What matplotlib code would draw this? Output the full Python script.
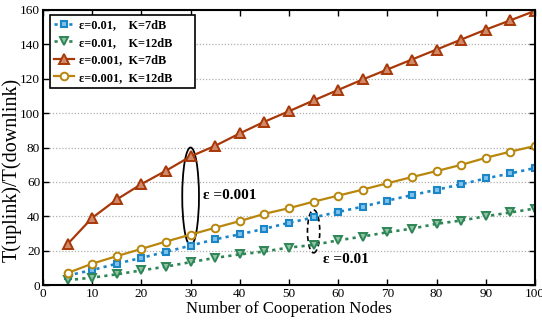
import matplotlib
matplotlib.use("Agg")
import matplotlib.pyplot as plt
from matplotlib.patches import Ellipse

plt.rcParams['font.family'] = ['Liberation Serif', 'DejaVu Serif']
plt.rcParams['mathtext.fontset'] = 'stix'

nodes = [5, 10, 15, 20, 25, 30, 35, 40, 45, 50, 55, 60, 65, 70, 75, 80, 85, 90, 95, 100]
e001_k7 = [5.5, 8.7, 12.4, 15.8, 19.3, 22.9, 26.6, 29.5, 32.7, 36.2, 39.3, 42.5, 45.6, 49.1, 52.3, 55.4, 58.6, 62.0, 64.9, 68.1]
e001_k12 = [2.8, 4.3, 6.2, 8.5, 10.7, 13.3, 15.8, 17.8, 19.5, 21.8, 23.3, 26.0, 28.2, 30.7, 32.8, 35.6, 37.5, 40.0, 42.2, 44.5]
e0001_k7 = [23.8, 39.1, 49.8, 58.7, 66.5, 74.8, 81.0, 88.2, 95.0, 101.1, 107.4, 113.5, 119.6, 125.4, 131.2, 137.0, 142.8, 148.6, 154.0, 159.5]
e0001_k12 = [7.0, 12.4, 16.8, 21.0, 25.3, 29.3, 33.3, 37.2, 41.4, 44.7, 48.5, 52.0, 55.5, 59.2, 62.8, 66.3, 69.9, 74.0, 77.6, 80.9]
labels = ['ε=0.01,    K=7dB', 'ε=0.01,    K=12dB', 'ε=0.001,  K=7dB', 'ε=0.001,  K=12dB']
x_ticks = [0, 10, 20, 30, 40, 50, 60, 70, 80, 90, 100]
y_ticks = [0, 20, 40, 60, 80, 100, 120, 140, 160]

fig = plt.figure(figsize=(5.42, 3.22), dpi=100)
ax = fig.add_axes([43/542, 37/322, 492/542, 275/322])

blue = '#1a86c8'
green = '#2e8555'
brown = '#a83808'
gold = '#b8860b'

ax.plot(nodes, e001_k7, linestyle=(0, (1.2, 1.6)), color=blue, lw=1.9, marker='s', ms=4.5,
        mfc='#7fc2ea', mec=blue, mew=1.5, label=labels[0])
ax.plot(nodes, e001_k12, linestyle=(0, (1.2, 1.6)), color=green, lw=1.9, marker='v', ms=6,
        mfc='#8fc4a4', mec=green, mew=1.4, label=labels[1])
ax.plot(nodes, e0001_k7, linestyle='-', color=brown, lw=1.6, marker='^', ms=7,
        mfc='#d08a6a', mec=brown, mew=1.4, label=labels[2])
ax.plot(nodes, e0001_k12, linestyle='-', color=gold, lw=1.6, marker='o', ms=5.5,
        mfc='white', mec=gold, mew=1.4, label=labels[3])

ax.set_xlim(0, 100)
ax.set_ylim(0, 160)
ax.set_xticks(x_ticks)
ax.set_yticks(y_ticks)
ax.tick_params(direction='in', top=True, right=True, labelsize=9.5, length=4, width=1, pad=2)
ax.yaxis.grid(True, linestyle=(0, (1, 1.5)), color='#b0b0b0', lw=0.9)
ax.set_axisbelow(True)
for s in ax.spines.values():
    s.set_linewidth(1.5)

ax.set_xlabel('Number of Cooperation Nodes', fontsize=12, labelpad=1)
ax.set_ylabel('T(uplink)/T(downlink)', fontsize=14.5, labelpad=0)
ax.yaxis.set_label_coords(-0.044, 0.42)

ax.add_patch(Ellipse((30, 51.5), 3.4, 57, fill=False, edgecolor='black', lw=1.3))
ax.text(32.5, 52, 'ε =0.001', fontsize=11, fontweight='bold', va='center', ha='left')
ax.add_patch(Ellipse((55, 31.2), 2.5, 25, fill=False, edgecolor='black', lw=1.2, linestyle=(0, (3, 2))))
ax.text(57, 15, 'ε =0.01', fontsize=11, fontweight='bold', va='center', ha='left')

leg = ax.legend(loc='upper left', bbox_to_anchor=(0.0142, 0.727, 0.295, 0.255), mode='expand',
                prop={'weight': 'bold', 'size': 8.8},
                frameon=True, fancybox=False, edgecolor='black', framealpha=1,
                handlelength=1.6, borderpad=0.35, labelspacing=0.45, handletextpad=0.45,
                borderaxespad=0)
leg.get_frame().set_linewidth(1.2)

fig.savefig('out.png', dpi=100)
